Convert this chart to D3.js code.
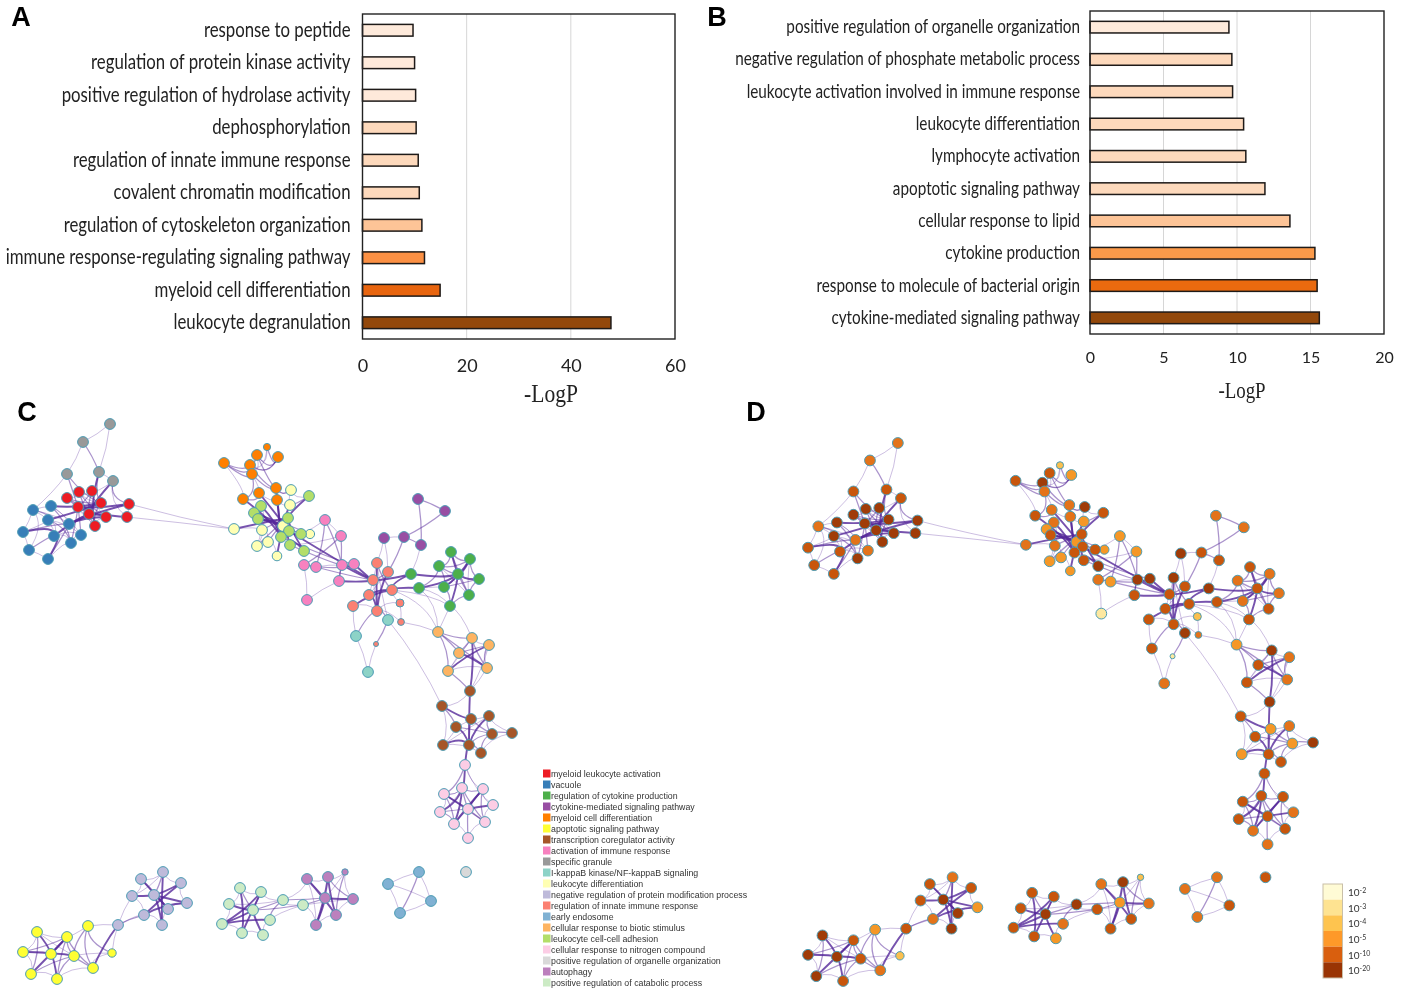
<!DOCTYPE html>
<html><head><meta charset="utf-8">
<script src="https://cdn.jsdelivr.net/npm/d3@7"></script>
<style>
html,body{margin:0;padding:0;background:#fff}
svg{display:block;filter:blur(0.3px)}
</style></head><body>
<svg id="chart" width="1410" height="990"></svg>
<script>
// ---- Bar panels ----
const categoriesA = ["response to peptide","regulation of protein kinase activity","positive regulation of hydrolase activity","dephosphorylation","regulation of innate immune response","covalent chromatin modification","regulation of cytoskeleton organization","immune response-regulating signaling pathway","myeloid cell differentiation","leukocyte degranulation"];
const valuesA = [9.7,10,10.2,10.3,10.7,10.9,11.4,11.9,14.9,47.7];
const coloursA = ["#feeadb","#fee9da","#fee9da","#fdd9bc","#fdd9bc","#fdd9bc","#fdc497","#fb9044","#e8650f","#93480b"];
const ticksA = [0,20,40,60];
const categoriesB = ["positive regulation of organelle organization","negative regulation of phosphate metabolic process","leukocyte activation involved in immune response","leukocyte differentiation","lymphocyte activation","apoptotic signaling pathway","cellular response to lipid","cytokine production","response to molecule of bacterial origin","cytokine-mediated signaling pathway"];
const valuesB = [9.45,9.65,9.7,10.45,10.6,11.9,13.6,15.3,15.45,15.6];
const coloursB = ["#feeadb","#fdd9bc","#fdd9bc","#fdd9bc","#fdd9bc","#fdd9bc","#fdc497","#fb9a4a","#ea6a0f","#93480b"];
const ticksB = [0,5,10,15,20];

// ---- Network nodes: [layout x, layout y, enrichment class, size class] ----
const specificGranule=[[110,424,'c'],[83,442,'c'],[67,474,'b'],[99,472,'b'],[113,481,'b']];
const myeloidActivation=[[67,498,'a'],[79,492,'a'],[92,491,'a'],[101,503,'a'],[78,507,'a'],[89,514,'a'],[106,517,'a'],[95,526,'a'],[129,504,'a'],[127,517,'a']];
const vacuole=[[33,510,'c'],[51,506,'a'],[48,520,'a'],[69,524,'c'],[23,532,'b'],[54,536,'b'],[81,535,'c'],[71,543,'a'],[29,550,'b'],[48,559,'b']];
const myeloidDiff=[[267,447,'e',3.6],[257,455,'b'],[278,457,'d'],[224,463,'b'],[250,465,'a'],[252,474,'c'],[276,488,'c'],[259,493,'c'],[243,499,'b'],[277,500,'c']];
const leukDiff=[[291,490,'a'],[290,505,'d'],[234,529,'c'],[262,530,'c'],[283,526,'d'],[310,534,'d',4.6],[268,542,'d'],[257,546,'d'],[277,556,'d',4.8]];
const leukAdhesion=[[309,496,'b'],[261,506,'c'],[254,513,'d'],[258,519,'b'],[288,518,'b'],[289,531,'b'],[301,534,'b'],[281,537,'b'],[290,545,'b'],[304,551,'a']];
const activationImmune=[[325,520,'d'],[341,536,'d'],[304,565,'c'],[316,567,'d'],[342,565,'a'],[354,564,'a'],[339,581,'b'],[307,600,'f']];
const cytokinePathway=[[418,499,'c'],[445,511,'c'],[384,538,'a'],[404,537,'b'],[421,545,'b']];
const innateImmune=[[377,563,'a'],[388,572,'b'],[373,580,'b'],[392,590,'b'],[369,595,'b'],[353,606,'b'],[377,611,'b'],[400,603,'e',4],[401,622,'c',3.4],[376,644,'f',2.5]];
const ikappaB=[[388,620,'a'],[356,636,'b'],[368,672,'c']];
const cytokineProd=[[451,552,'b'],[470,559,'c'],[439,566,'c'],[458,574,'b'],[411,574,'a'],[479,579,'c'],[419,588,'b'],[444,587,'c'],[469,595,'b'],[450,606,'b']];
const bioticStimulus=[[438,632,'d'],[472,638,'a'],[489,645,'c'],[459,653,'b'],[487,668,'c'],[448,671,'b']];
const coregulator=[[470,691,'a'],[442,706,'b'],[471,719,'d'],[489,716,'c'],[456,727,'b'],[492,734,'d'],[512,733,'a'],[443,745,'d'],[469,745,'b'],[481,753,'b']];
const nitrogenCompound=[[465,765,'b'],[462,788,'b'],[483,789,'b'],[444,794,'b'],[493,805,'c'],[468,809,'b'],[440,812,'b'],[485,822,'b'],[454,824,'c'],[468,838,'c']];
const organelleOrg=[[466,872,'b']];
const apoptotic=[[37,932,'a'],[67,937,'b'],[88,926,'d'],[23,952,'a'],[51,954,'a'],[74,956,'b'],[112,953,'e',4.2],[93,968,'c'],[31,974,'a'],[57,979,'b']];
const negRegulation=[[118,925,'b'],[141,879,'b'],[163,872,'c'],[181,883,'b'],[132,896,'b'],[154,895,'a'],[187,903,'d'],[168,909,'a'],[144,915,'c'],[162,925,'a']];
const catabolic=[[240,888,'b'],[261,892,'b'],[229,904,'b'],[283,900,'a'],[303,905,'b'],[253,910,'a'],[270,920,'c'],[222,924,'b'],[242,933,'b'],[263,935,'d']];
const autophagy=[[307,879,'c'],[328,877,'a'],[345,872,'e',3.2],[325,898,'d'],[353,899,'c'],[336,915,'b'],[316,925,'b']];
const endosome=[[388,884,'c'],[419,872,'c'],[431,901,'b'],[400,913,'c']];

// prefix, nodes, colour, legend label (legend order)
const clusterPrefixes=["re","bl","ge","pu","or","ye","br","pi","gr","te","pa","la","sa","ee","lo","li","lp","lg","au","ca"];
const clusterNodes=[myeloidActivation,vacuole,cytokineProd,cytokinePathway,myeloidDiff,apoptotic,coregulator,activationImmune,specificGranule,ikappaB,leukDiff,negRegulation,innateImmune,endosome,bioticStimulus,leukAdhesion,nitrogenCompound,organelleOrg,autophagy,catabolic];
const clusterColours=["#ed1c24","#377eb8","#4daf4a","#984ea3","#ff7f00","#ffff33","#a65628","#f781bf","#999999","#8dd3c7","#ffffb3","#bebada","#fb8072","#80b1d3","#fdb462","#b3de69","#fccde5","#d9d9d9","#bc80bd","#ccebc5"];
const clusterLabels=["myeloid leukocyte activation","vacuole","regulation of cytokine production","cytokine-mediated signaling pathway","myeloid cell differentiation","apoptotic signaling pathway","transcription coregulator activity","activation of immune response","specific granule","I-kappaB kinase/NF-kappaB signaling","leukocyte differentiation","negative regulation of protein modification process","regulation of innate immune response","early endosome","cellular response to biotic stimulus","leukocyte cell-cell adhesion","cellular response to nitrogen compound","positive regulation of organelle organization","autophagy","positive regulation of catabolic process"];

// Enrichment classes
const enrichClasses=["a","b","c","d","e","f"];
const enrichColours=["#a03c08","#c8560c","#e3731a","#f59726","#fbbf4e","#fde8a0"];
const barColours=["#fffbd5","#fee391","#fec44f","#fe9929","#d95f0e","#993404"];
const barExponents=["-2","-3","-4","-5","-10","-20"];

// Edges: [bundle centre x, y, thick, medium, thin]
const edgeBundles=[
[80,513,"re8-bl3 re9-re5 re8-re4 gr3-re7 gr4-re5 bl1-re3 bl3-re6 bl5-re5 bl5-bl9 bl4-bl5 bl2-re3","gr3-re3 gr2-re3 gr2-re4 re0-re5 re1-re7 re2-re5 re3-re7 re4-re6 re0-re3 re1-re6 re2-re4 re0-re6 bl3-re5 bl7-re4 bl9-bl3 bl2-bl7 bl1-bl7 bl0-bl2 bl4-bl3 gr4-re8 bl5-bl8 bl6-re4","gr4-re9 gr4-re2 bl0-bl5 bl1-bl6 bl2-bl6 bl2-bl5 bl6-bl7 bl5-bl7 bl1-bl3 bl0-bl3 bl7-bl9 re1-re2 re0-re1 re5-re6 re6-re7 re2-re3 re0-re7 re1-re3 re2-re6 re4-re7 bl0-bl8 bl2-bl4 bl5-bl6"],
[0,0,"","gr1-gr3","gr0-gr1 gr0-gr3 gr1-gr2 gr2-bl0 gr3-gr4 bl0-bl1 bl0-bl4 bl4-bl8 bl8-bl9 re8-re9"],
[175,521,"","","re8-pa2 re9-pa2"],
[280,518,"or8-li7 or7-li5 or9-li7 or6-li7 li0-li4 li1-li7 li2-li5 li3-li5 pa2-li4 pa8-li4 li9-li4 li5-li8 li8-li9 pa1-li7 pa4-li3","or3-or4 or3-or1 or4-or2 or1-or2 or3-or5 or0-or2 or4-or6 or5-or6 or1-or6 pa0-or6 pa6-li4 pa3-li4 li6-li3 pa5-li2 li0-pa1 or8-or7 or5-or8 pa7-li4","or0-or1 or0-or4 or3-or8 or7-or9 or6-pa0 pa0-li0 pa0-pa1 or9-pa1 pa3-pa7 pa6-pa7 pa3-pa6 pa2-pa3 pa8-pa6 li5-li6 li6-pa5 li1-li2 li2-li3 or1-or4 or2-or4 or5-or7 pa3-li1 pa7-li3"],
[375,585,"pi4-sa2 pi5-sa2 pi6-sa2 li5-sa2 sa2-ge4 sa3-ge6 sa0-sa6 sa1-sa6 sa4-sa6 sa5-sa3 sa4-sa3 sa3-ge4","pi3-sa2 pi2-pi5 sa6-te1 sa6-te0 sa0-sa3 sa1-sa2 li8-pi4 li7-pi5","sa3-sa7 sa7-sa6 sa0-te0 sa6-sa8 sa0-sa4 sa1-sa4 sa2-sa6 sa5-sa6"],
[0,0,"","pi0-pi3 pi1-pi2 pi0-pi4 pi1-pi6 pi6-pi4 pu3-sa1 pu1-pu3 pu0-pu1 pu0-pu4 pu3-pu4 te0-sa9","pi0-li6 pi0-pi1 pi1-li8 pi2-pi7 pi7-pi6 pi2-pi3 pu2-pu3 pu2-sa0 pu2-sa1 pu4-ge4 sa7-sa8 te1-te2 te2-sa9 sa8-lo0 te0-br1 te1-sa5 pi3-pi4"],
[460,585,"ge6-ge3 ge4-ge3 ge9-ge3 ge0-ge3 ge1-ge3 ge5-ge3 ge7-ge1","ge2-ge3 ge2-ge1 ge0-ge8 ge8-ge3 ge3-ge7 ge2-ge7 ge0-ge2 ge0-ge1 ge1-ge5 ge5-ge8 ge8-ge9 ge7-ge9 ge7-ge5 ge6-ge2","ge6-ge9 ge6-lo0 sa3-ge9 sa3-lo0 ge9-lo0 ge9-lo1 ge1-ge8 ge2-ge8 ge6-ge7"],
[465,650,"lo5-lo2 lo3-lo4","lo0-lo1 lo0-lo5 lo0-lo3 lo0-lo4 lo1-lo3 lo1-lo4 lo2-lo4 lo2-lo3","lo1-lo2 lo3-lo5 lo4-lo5 lo1-lo5"],
[0,0,"lo1-br0","lo5-br0","lo4-br0 lo2-br0"],
[468,725,"br0-br8 br1-br2 br3-br8 br7-br8 br8-lp0 br4-br8","br2-br5 br5-br6 br3-br5 br2-br8 br5-br8 br4-br5 br1-br4 br8-br9 br9-br5","br1-br7 br0-br1 br9-br6 br3-br7 br7-br9 br3-br6 br2-br4 br2-br3 br4-br7"],
[465,808,"lp3-lp5 lp6-lp1 lp2-lp5 lp4-lp5 lp8-lp1 lp8-lp2 lp0-lp1","lp3-lp8 lp6-lp5 lp5-lp9 lp0-lp3 lp1-lp5 lp5-lp7 lp5-lp8 lp2-lp7 lp1-lp7 lp3-lp7 lp6-lp8","lp0-lp2 lp2-lp4 lp8-lp9 lp7-lp9 lp4-lp7 lp3-lp6 lp1-lp3 lp1-lp2 lp0-lp4 lp1-lp6 lp3-lp1 lp2-lp1"],
[55,950,"ye3-ye4 ye4-ye0 ye8-ye1 ye4-ye1 ye9-ye4 ye4-ye5","ye0-ye8 ye1-ye7 ye2-ye6 ye1-ye5 ye2-ye5 ye2-ye7 ye5-ye8 ye5-ye9 ye5-ye7 ye1-ye3 ye9-ye1","ye0-ye3 ye3-ye8 ye8-ye9 ye1-ye2 ye0-ye1 ye7-ye9 ye7-ye6 ye5-ye3 ye5-ye6 ye0-ye5"],
[0,0,"ye7-la0","la0-la8","ye2-la0 ye6-la0 la0-la4"],
[160,897,"la4-la5 la5-la7 la2-la9 la3-la8 la5-la9 la6-la8 la1-la7 la5-la3 la6-la5","la2-la5 la1-la5","la1-la2 la2-la3 la3-la6 la1-la4 la4-la8 la8-la9 la9-la7 la6-la7 la0-la8 la4-la2"],
[250,915,"ca7-ca5 ca0-ca8 ca7-ca1 ca5-ca9 ca1-ca8 ca2-ca5 ca7-ca6","ca5-ca3 ca5-ca4 ca6-ca3 ca1-ca5 ca0-ca5","ca0-ca2 ca0-ca1 ca1-ca3 ca2-ca7 ca7-ca8 ca8-ca9 ca6-ca9 ca3-ca4 ca6-ca4 ca2-ca3"],
[328,900,"au1-au6 au0-au5 au3-au4 au3-au6 au1-au5","au3-ca4 au0-au3 au1-au4 au2-au5 ca3-au3","au0-au1 au1-au2 au2-au3 au2-au4 au4-au5 au5-au6 au0-au6 au4-ca4 ca4-au6 ca3-au0 au1-au3"],
[0,0,"","ee1-ee3","ee0-ee1 ee0-ee3 ee0-ee2 ee1-ee2 ee2-ee3"]
];

// ---- Drawing ----
const svg=d3.select("#chart");
const sans="Lato, 'Open Sans', sans-serif";
const serif="'Liberation Serif', serif";

function barPanel(cfg){
  const x=d3.scaleLinear().domain(cfg.domain).range([cfg.left,cfg.right]);
  const y=d3.scaleBand().domain(cfg.cats).range([cfg.top,cfg.bottom]).paddingInner(cfg.pad).paddingOuter(cfg.pad/2);
  const g=svg.append("g");
  g.selectAll("line.grid").data(cfg.ticks.slice(1,-1)).join("line").attr("class","grid")
    .attr("x1",x).attr("x2",x).attr("y1",cfg.top).attr("y2",cfg.bottom).attr("stroke","#d6d6d6").attr("stroke-width",1);
  g.selectAll("rect.bar").data(cfg.vals).join("rect").attr("class","bar")
    .attr("x",cfg.left).attr("y",(d,i)=>y(cfg.cats[i])).attr("width",d=>x(d)-cfg.left).attr("height",y.bandwidth())
    .attr("fill",(d,i)=>cfg.cols[i]).attr("stroke","#1e1a18").attr("stroke-width",1.5);
  g.append("rect").attr("x",cfg.left).attr("y",cfg.top).attr("width",cfg.right-cfg.left).attr("height",cfg.bottom-cfg.top)
    .attr("fill","none").attr("stroke","#222").attr("stroke-width",1.4);
  g.selectAll("text.cat").data(cfg.cats).join("text").attr("class","cat").text(d=>d)
    .attr("transform",d=>`translate(${cfg.left-cfg.labelGap},${y(d)+y.bandwidth()/2+cfg.labelDy}) scale(${cfg.squeeze},1)`)
    .attr("text-anchor","end").attr("font-family",sans).attr("font-size",cfg.font).attr("fill","#222");
  const axis=d3.axisBottom(x).tickValues(cfg.ticks).tickSize(0).tickPadding(0).tickFormat(d3.format("d"));
  const ax=g.append("g").attr("transform",`translate(0,${cfg.tickY})`).call(axis);
  ax.select(".domain").remove();
  ax.selectAll("text").attr("font-family",sans).attr("font-size",cfg.tickFont).attr("fill","#222")
    .attr("dy",0).attr("y",0);
  g.append("text").text("-LogP").attr("transform",`translate(${cfg.titleX},${cfg.titleY}) scale(.9,1.05)`)
    .attr("text-anchor","middle").attr("font-family",serif).attr("font-size",cfg.titleFont).attr("fill","#222");
}
barPanel({domain:[0,60],left:362.5,right:675,top:14,bottom:339,cats:categoriesA,vals:valuesA,cols:coloursA,ticks:ticksA,pad:.64,
  labelGap:12,labelDy:6.5,squeeze:.8,font:21,tickY:372,tickFont:18,titleX:551,titleY:402,titleFont:24});
barPanel({domain:[0,20],left:1090,right:1384,top:11,bottom:334,cats:categoriesB,vals:valuesB,cols:coloursB,ticks:ticksB,pad:.64,
  labelGap:10,labelDy:6,squeeze:.805,font:19,tickY:363,tickFont:16,titleX:1242,titleY:398,titleFont:21});

// networks
const nodeTable=[];
clusterPrefixes.forEach((p,ci)=>clusterNodes[ci].forEach((n,i)=>nodeTable.push({id:p+i,cluster:ci,x:n[0],y:n[1],level:n[2],r:n[3]||5.4})));
const nodeById=new Map(nodeTable.map(n=>[n.id,n]));
const edgeStyle=[{w:1.9,o:.8},{w:1.25,o:.5},{w:1,o:.3}];
const edgeTable=[];
edgeBundles.forEach(b=>[b[2],b[3],b[4]].forEach((s,k)=>s.split(" ").filter(Boolean).forEach(e=>{
  const [a,c]=e.split("-");
  edgeTable.push({a:nodeById.get(a),b:nodeById.get(c),hx:b[0],hy:b[1],k});
})));
edgeTable.sort((p,q)=>q.k-p.k);
const levelColour=d3.scaleOrdinal().domain(enrichClasses).range(enrichColours);

function network(xs,ys,fill){
  const g=svg.append("g");
  g.selectAll("path").data(edgeTable).join("path")
   .attr("d",e=>{
     const x1=xs(e.a.x),y1=ys(e.a.y),x2=xs(e.b.x),y2=ys(e.b.y);
     const mx=(x1+x2)/2,my=(y1+y2)/2;
     const t=e.hx?(e.k==0?.45:.3):0;
     const cx=e.hx?mx+t*(xs(e.hx)-mx):mx+(y2-y1)*.06, cy=e.hx?my+t*(ys(e.hy)-my):my-(x2-x1)*.06;
     return `M${x1},${y1}Q${cx},${cy} ${x2},${y2}`;
   })
   .attr("fill","none").attr("stroke","#55289a")
   .attr("stroke-width",e=>edgeStyle[e.k].w).attr("stroke-opacity",e=>edgeStyle[e.k].o).attr("stroke-linecap","round");
  g.selectAll("circle").data(nodeTable).join("circle")
   .attr("cx",n=>xs(n.x)).attr("cy",n=>ys(n.y)).attr("r",n=>n.r)
   .attr("fill",fill).attr("stroke","#4b9bb3").attr("stroke-width",1);
}
const xC=d3.scaleLinear().domain([0,500]).range([0,500]);
const yC=d3.scaleLinear().domain([400,1000]).range([400,1000]);
const xD=d3.scaleLinear().domain([23,512]).range([808,1313]);
const yD=d3.scaleLinear().domain([424,979]).range([443,981]);
network(xC,yC,n=>clusterColours[n.cluster]);
network(xD,yD,n=>levelColour(n.level));

// legend
const legendY=d3.scaleBand().domain(clusterLabels).range([768,988]);
const leg=svg.append("g");
leg.selectAll("rect").data(clusterLabels).join("rect")
  .attr("x",543).attr("y",d=>legendY(d)+1.5).attr("width",7.5).attr("height",8)
  .attr("fill",(d,i)=>clusterColours[i]);
leg.selectAll("text").data(clusterLabels).join("text").text(d=>d)
  .attr("x",551).attr("y",d=>legendY(d)+8.8)
  .attr("font-family","'Liberation Sans',sans-serif").attr("font-size",8.8).attr("fill","#333");

// colour bar
const barY=d3.scaleBand().domain(barExponents).range([884,978]);
const cb=svg.append("g");
cb.selectAll("rect").data(barExponents).join("rect")
  .attr("x",1323).attr("y",d=>barY(d)).attr("width",19.5).attr("height",barY.bandwidth())
  .attr("fill",(d,i)=>barColours[i]);
cb.append("rect").attr("x",1323).attr("y",884).attr("width",19.5).attr("height",94).attr("fill","none").attr("stroke","#c9bfa8").attr("stroke-width",1);
const cbt=cb.selectAll("text").data(barExponents).join("text")
  .attr("x",1348).attr("y",d=>barY(d)+barY.bandwidth()/2+4)
  .attr("font-family",sans).attr("font-size",10).attr("fill","#333");
cbt.append("tspan").text("10");
cbt.append("tspan").text(d=>d).attr("dy",-3).attr("font-size",7);

// panel letters
const panelLetters=["A","B","C","D"], letterX=[21,717,27,756], letterY=[26,26,421,421];
svg.selectAll("text.letter").data(panelLetters).join("text").attr("class","letter").text(d=>d)
  .attr("x",(d,i)=>letterX[i]).attr("y",(d,i)=>letterY[i]).attr("text-anchor","middle")
  .attr("font-family","'Liberation Sans',sans-serif").attr("font-weight","bold").attr("font-size",27).attr("fill","#000");
</script>
</body></html>
